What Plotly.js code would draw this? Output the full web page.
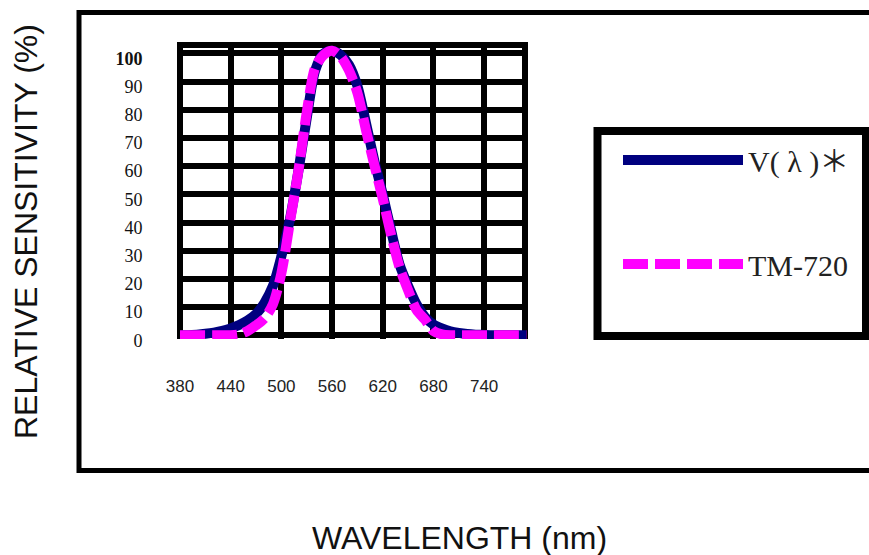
<!DOCTYPE html>
<html><head><meta charset="utf-8">
<script src="https://cdn.plot.ly/plotly-3.0.1.min.js"></script>
<style>html,body{margin:0;padding:0;background:#fff;}#chart{width:869px;height:555px;}</style>
</head><body><div id="chart"></div>
<script>
// ---- data ----
const wavelengths = [380,390,400,410,420,430,440,450,460,470,480,490,500,510,520,530,540,550,560,570,580,590,600,610,620,630,640,650,660,670,680,690,700,710,720,730,740,750,760,770,780,790];
const vLambda = [0,0,0.2,0.5,0.9,1.5,2.4,3.6,5.2,7.5,11.5,17.5,28,41,58,77,94,100,101,99.5,96,88.5,75.5,62,50,37,25,17.5,11,6.5,3.8,2.4,1.4,0.8,0.4,0.2,0.1,0,0,0,0,0];
const tm720 = [0,0,0,0,0,0,0,0.3,1.5,3.5,6,11,22,40,58,79,95,99.5,101,99,94,86,73,60.5,48.5,35.5,24,16,9,5.5,1.5,0.3,0,0,0,0,0,0,0,0,0,0];
const seriesNames = ['V( λ )＊', 'TM-720'];
const xTickVals = [380,440,500,560,620,680,740];
const xTickText = ['380','440','500','560','620','680','740'];
const yTickVals = [0,10,20,30,40,50,60,70,80,90,100];
const yTickText = ['0','10','20','30','40','50','60','70','80','90','<b>100</b>'];

// ---- layout geometry (pixels) ----
const W = 869, H = 555;
const L = 177, R = 528, T = 42, B = 339;
const px = v => (v - L) / (R - L);
const py = v => (B - v) / (B - T);

const traces = [
  {x: wavelengths, y: vLambda, name: seriesNames[0], type: 'scatter', mode: 'lines',
   legendgroup: 'a', line: {color: '#00007f', width: 10, shape: 'spline', smoothing: 0.8}},
  {x: wavelengths, y: tm720, name: seriesNames[1], type: 'scatter', mode: 'lines',
   legendgroup: 'b', line: {color: '#ff00ff', width: 10, dash: '25px,7px', shape: 'spline', smoothing: 0.8}}
];

const layout = {
  width: W, height: H,
  margin: {l: L, r: W - R, t: T, b: H - B, pad: 0},
  paper_bgcolor: '#fff', plot_bgcolor: '#fff',
  showlegend: true,
  legend: {x: px(618), y: py(134), xanchor: 'left', yanchor: 'top',
    bgcolor: 'rgba(0,0,0,0)', borderwidth: 0, itemwidth: 120, tracegroupgap: 62,
    font: {family: 'Liberation Serif, Noto Sans CJK TC, serif', size: 30, color: '#222'}},
  xaxis: {range: [376.45, 791.95], tickmode: 'array', tickvals: xTickVals, ticktext: xTickText,
    showgrid: true, gridcolor: '#000', gridwidth: 6, zeroline: false, showline: false,
    ticks: 'outside', ticklen: 32, tickcolor: 'rgba(0,0,0,0)',
    tickfont: {family: 'Liberation Sans, Arial, sans-serif', size: 17, color: '#222'}, fixedrange: true},
  yaxis: {range: [-1.35, 104.08], tickmode: 'array', tickvals: yTickVals, ticktext: yTickText,
    showgrid: true, gridcolor: '#000', gridwidth: 6, zeroline: false, showline: false,
    ticks: 'outside', ticklen: 30, tickcolor: 'rgba(0,0,0,0)', ticklabelshift: 5,
    tickfont: {family: 'Liberation Serif, Times New Roman, serif', size: 18, color: '#111'}, fixedrange: true},
  shapes: [
    // plot top and right borders
    {type: 'rect', xref: 'paper', yref: 'paper', x0: 0, x1: 1, y0: py(48), y1: 1,
     fillcolor: '#000', line: {width: 0}, layer: 'between'},
    {type: 'rect', xref: 'paper', yref: 'paper', x0: px(522), x1: 1, y0: 0, y1: 1,
     fillcolor: '#000', line: {width: 0}, layer: 'between'},
    // outer frame
    {type: 'rect', xref: 'paper', yref: 'paper', x0: px(79), x1: px(875), y0: py(470.5), y1: py(12.5),
     line: {color: '#000', width: 5}, fillcolor: 'rgba(0,0,0,0)', layer: 'above'},
    // legend frame
    {type: 'rect', xref: 'paper', yref: 'paper', x0: px(597.5), x1: px(866), y0: py(336), y1: py(131),
     line: {color: '#000', width: 8}, fillcolor: 'rgba(0,0,0,0)', layer: 'above'}
  ],
  annotations: [
    {text: 'RELATIVE SENSITIVITY (%)', xref: 'paper', yref: 'paper', x: px(26), y: py(232),
     xanchor: 'center', yanchor: 'middle', textangle: -90, showarrow: false,
     font: {family: 'Liberation Sans, Arial, sans-serif', size: 32, color: '#111'}},
    {text: 'WAVELENGTH (nm)', xref: 'paper', yref: 'paper', x: px(459), y: py(538),
     xanchor: 'center', yanchor: 'middle', showarrow: false,
     font: {family: 'Liberation Sans, Arial, sans-serif', size: 32, color: '#111'}}
  ]
};

Plotly.newPlot('chart', traces, layout, {staticPlot: true, displayModeBar: false});
</script>
</body></html>
